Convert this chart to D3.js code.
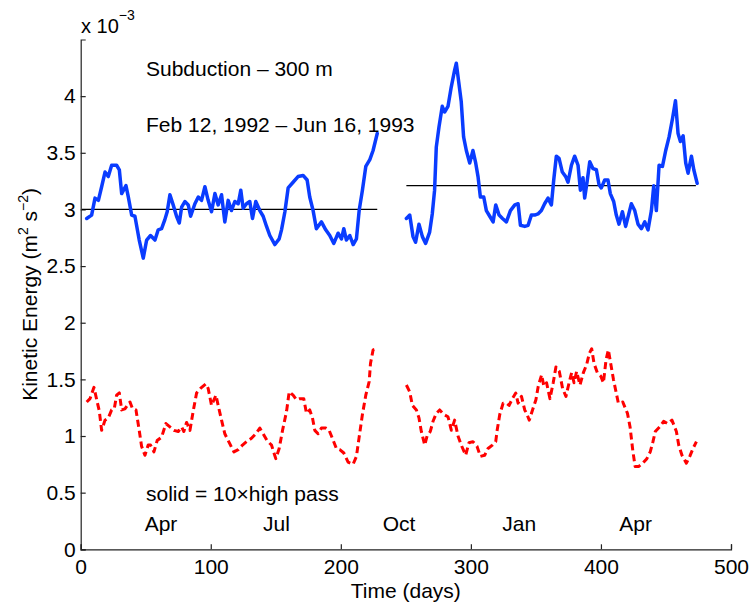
<!DOCTYPE html>
<html><head><meta charset="utf-8">
<script src="https://cdn.jsdelivr.net/npm/d3@7"></script>
<style>body{margin:0;background:#fff}text{font-family:"Liberation Sans",Arial,Helvetica,sans-serif}</style>
</head><body><svg id="c" width="749" height="606"></svg>
<script>
// ---- data ----
const blueDays1 = [4.6,8.4,11,13.6,16.1,18.7,21.2,23.8,27.6,29.7,31.5,34.8,36.6,39.2,41.7,45,48.1,50.7,53.7,57.1,59.6,62.2,64.7,66.5,68.6,71.1,73.7,75.8,77.6,80.1,82.7,84.5,87.8,90.4,92.9,95.5,98,100.6,103.2,105.7,108.3,110.8,113.4,115.9,118.5,121.1,123.1,124.9,127.5,130,132.1,134.6,137.7,140.3,142.9,145.4,149.3,152.6,154.4,157,159.5,163.3,167.1,171,174.1,176.1,178.7,181.2,185.1,188.4,191.5,194.6,197.9,200.5,202.3,204.3,206.9,209.5,212,214.1,216.6,219.2,222.3,224.8,228];
const blueVals1 = [2.92,2.95,3.10,3.08,3.20,3.33,3.29,3.39,3.39,3.35,3.14,3.21,3.11,2.95,2.94,2.73,2.57,2.73,2.77,2.73,2.82,2.83,2.91,2.98,3.13,3.04,2.94,2.88,3.02,3.07,3.04,2.94,3.05,3.11,3.08,3.20,3.08,2.98,3.14,3.04,3.13,2.89,3.08,2.99,3.07,3.05,3.17,3.01,3.05,3.07,2.92,3.07,2.99,2.94,2.85,2.77,2.69,2.74,2.82,2.98,3.19,3.24,3.29,3.30,3.26,3.11,2.99,2.83,2.89,2.82,2.77,2.70,2.79,2.74,2.83,2.73,2.77,2.69,2.74,2.99,3.17,3.38,3.44,3.52,3.67];
const blueDays2 = [250.4,253,255.5,257.5,260.1,262.7,265.2,268.3,270.3,272.1,273.4,275.5,278,279.8,282.4,284.9,287.5,288.8,290.6,292.6,294.4,296.5,299.1,301.6,303.7,305.5,307.3,309.9,311.9,314.5,317.1,319.1,321.7,324.3,327.3,330.4,333.8,336.3,338.1,341.4,344,346.5,349.1,351.6,354.2,356.7,359.3,361.9,363.7,365.7,367.8,370.3,372.9,374.7,377.3,379.8,382.4,384.2,386.2,387.5,389.3,391.4,393.9,396.5,398.5,400.3,402.9,405.4,407.2,409.8,411.8,413.9,416.5,419,421.6,423.4,426,428.5,431.1,433.7,436.2,438.8,440.6,442.6,444.7,447.3,449.8,452.4,455,457.3,459.3,461.1,463.2,465.2,467,469.6,471.4,474];
const blueVals2 = [2.92,2.95,2.76,2.71,2.87,2.76,2.70,2.80,2.96,3.17,3.55,3.73,3.91,3.86,3.91,4.08,4.23,4.29,4.13,3.95,3.64,3.52,3.41,3.52,3.41,3.29,3.11,3.11,2.99,2.94,2.89,3.04,2.95,2.92,2.89,2.99,3.04,3.05,2.86,2.85,2.86,2.95,2.95,2.96,2.99,3.05,3.10,3.04,3.26,3.47,3.45,3.33,3.29,3.24,3.39,3.47,3.39,3.17,3.28,3.10,3.24,3.42,3.36,3.35,3.22,3.19,3.26,3.26,3.14,3.07,2.95,2.87,2.98,2.85,2.97,3.05,2.99,2.87,2.83,2.89,2.82,2.99,3.21,2.99,3.39,3.38,3.52,3.64,3.80,3.96,3.67,3.60,3.65,3.41,3.32,3.47,3.35,3.23];
const redDays1 = [4.6,7.2,10.2,12.3,14.3,16.1,18.7,21.2,23.8,25.8,27.6,29.7,31.5,34,35.8,37.9,39.9,42.5,45,46.8,49.4,51.9,53.7,56.3,58.8,62.2,65.5,68.6,71.7,75,77.6,79.3,81.4,84,86.5,89.1,92.1,96.2,98,100.6,104,105.7,108.3,110.8,114.7,117.8,121.1,124.4,127.5,131.3,134.6,137.7,140.3,143.3,146.7,150,152.6,155.2,158.3,160.3,163.3,165.9,168.5,171.5,173.6,176.1,178.2,180,182.5,185.1,188.4,191,193.5,196.6,199.2,202.3,205.6,209.4,212,214.1,216.6,219.2,221.8,222.8,224.8,227.8];
const redVals1 = [1.30,1.33,1.43,1.32,1.22,1.05,1.14,1.16,1.23,1.24,1.36,1.38,1.23,1.24,1.27,1.30,1.24,1.23,1.05,0.91,0.83,0.92,0.92,0.86,0.96,0.99,1.11,1.08,1.05,1.04,1.08,1.04,1.12,1.05,1.22,1.38,1.42,1.46,1.42,1.27,1.36,1.27,1.14,1.02,0.93,0.86,0.88,0.92,0.95,0.98,1.02,1.07,1.02,0.96,0.92,0.80,0.89,1.05,1.22,1.39,1.36,1.32,1.33,1.33,1.20,1.23,1.16,1.05,1.02,1.07,1.07,1.05,0.98,0.89,0.88,0.85,0.77,0.75,0.82,0.99,1.19,1.36,1.48,1.64,1.76,1.77];
const redDays2 = [250.4,253,255,258.1,260.1,261.9,264.5,266.3,268.8,270.9,273.4,276,279.1,282.4,285,287.5,290.1,292.6,296,298.5,301.6,304.7,307.3,310.6,313.2,316.5,319.1,320.2,322.2,324.8,327.3,329.4,331.9,334.5,336.3,338.9,341.4,342.8,344.9,347.4,350,351.8,354.4,356.1,358.2,360.8,363.3,365.4,368,370.5,373.1,375.7,377.5,379.3,381.3,383.9,386.5,389,391.1,392.9,394.7,397.2,399.8,401.9,403.9,405.7,407.5,409.6,411.6,413.4,416.8,420.4,422.4,424.5,426.3,428.9,432.2,435.3,437.9,440,441.8,445.1,448.2,451.3,454.6,458,459.8,462.3,465.7,468.3,470.8,473.4];
const redVals2 = [1.45,1.39,1.27,1.23,1.16,1.04,0.92,1.00,1.04,1.13,1.20,1.23,1.19,1.17,1.05,1.14,1.00,0.92,0.83,0.94,0.95,0.91,0.82,0.83,0.89,0.92,0.95,1.05,1.19,1.29,1.29,1.27,1.33,1.38,1.29,1.35,1.23,1.20,1.14,1.23,1.32,1.44,1.54,1.44,1.47,1.33,1.47,1.61,1.57,1.42,1.35,1.48,1.56,1.47,1.57,1.45,1.56,1.63,1.73,1.77,1.64,1.56,1.53,1.47,1.67,1.76,1.64,1.50,1.39,1.29,1.30,1.20,1.08,0.87,0.73,0.73,0.76,0.80,0.86,0.95,1.04,1.08,1.13,1.11,1.14,1.04,0.92,0.83,0.76,0.82,0.89,0.95];
const meanStarts = [1, 250.4];
const meanEnds = [228, 473];
const meanValues = [3.0, 3.21];
const xTicks = [0,100,200,300,400,500];
const yTicks = [0,0.5,1,1.5,2,2.5,3,3.5,4];
const monthLabels = ["Apr","Jul","Oct","Jan","Apr"];
const monthDays = [48,139,231,323,413];

// ---- chart ----
const FS = 21;
const svg = d3.select("#c");
const x = d3.scaleLinear().domain([0,500]).range([80.7,731]);
const y = d3.scaleLinear().domain([0,4.5]).range([549.3,39.5]);

const xAxis = d3.axisBottom(x).tickValues(xTicks).tickSize(-5).tickPadding(10).tickFormat(d3.format("d"));
const yAxis = d3.axisLeft(y).tickValues(yTicks).tickSize(-5).tickPadding(5).tickFormat(d=>String(d));
const gx = svg.append("g").attr("transform",`translate(0,${y(0)})`).call(xAxis);
const gy = svg.append("g").attr("transform",`translate(${x(0)},0)`).call(yAxis);
[gx,gy].forEach(g=>{
  g.selectAll("path").attr("stroke","#222").attr("stroke-width",1.2);
  g.selectAll("line").attr("stroke","#222").attr("stroke-width",1.2);
  g.selectAll("text").attr("fill","#000").attr("font-size",FS).attr("font-family",'"Liberation Sans",Arial,sans-serif');
});
gx.selectAll("text").attr("dy","0.71em");

const line = d3.line().x(d=>x(d[0])).y(d=>y(d[1]));
function seg(days, vals){ return days.map((d,i)=>[d, vals[i]]); }

// mean lines
meanValues.forEach((v,i)=>{
  svg.append("path").attr("d", line([[meanStarts[i],v],[meanEnds[i],v]]))
    .attr("stroke","#000").attr("stroke-width",1.3).attr("fill","none");
});

[[blueDays1,blueVals1],[blueDays2,blueVals2]].forEach(([d,v])=>{
  svg.append("path").attr("d", line(seg(d,v))).attr("fill","none")
    .attr("stroke","#0a3cff").attr("stroke-width",3.5).attr("stroke-linejoin","round").attr("stroke-linecap","round");
});
[[redDays1,redVals1],[redDays2,redVals2]].forEach(([d,v])=>{
  svg.append("path").attr("d", line(seg(d,v))).attr("fill","none")
    .attr("stroke","#ff0000").attr("stroke-width",3).attr("stroke-dasharray","7,4").attr("stroke-linejoin","round");
});

// texts
const T = (tx,ty,s,size=FS)=>svg.append("text").attr("x",tx).attr("y",ty).attr("font-size",size).attr("fill","#000").text(s);
T(146,76,"Subduction \u2013 300 m");
T(146,132,"Feb 12, 1992 \u2013 Jun 16, 1993");
T(146,501,"solid = 10\u00d7high pass");
monthLabels.forEach((m,i)=>{
  svg.append("text").attr("x",x(monthDays[i])+1.5).attr("y",531)
    .attr("font-size",FS).attr("fill","#000").text(m);
});
// exponent
const ex = svg.append("text").attr("x",81).attr("y",33).attr("font-size",20).attr("fill","#000");
ex.append("tspan").text("x 10");
ex.append("tspan").attr("dy",-13).attr("font-size",14).text("\u22123");

// axis titles
svg.append("text").attr("x",x(250)).attr("y",598).attr("text-anchor","middle").attr("font-size",FS).text("Time (days)");
const yl = svg.append("text").attr("transform",`translate(37,${y(2.25)}) rotate(-90)`).attr("text-anchor","middle").attr("font-size",FS);
yl.append("tspan").text("Kinetic Energy (m");
yl.append("tspan").attr("dy",-9).attr("font-size",14).text("2");
yl.append("tspan").attr("dy",9).text(" s");
yl.append("tspan").attr("dy",-9).attr("font-size",14).text("\u22122");
yl.append("tspan").attr("dy",9).text(")");
</script></body></html>
